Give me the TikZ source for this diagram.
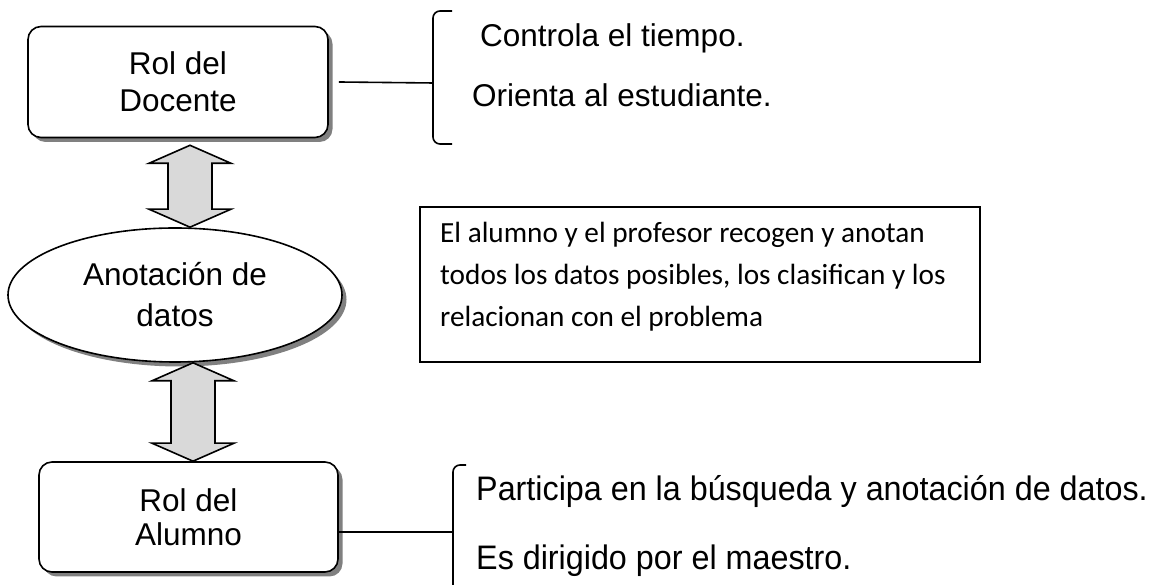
\documentclass[tikz,border=0pt]{standalone}
\usepackage{fontspec}
\setmainfont{Liberation Sans}
\newfontfamily\calibri{Carlito}
\newfontfamily\arialn{Liberation Sans}[FakeStretch=0.95]
\usetikzlibrary{shapes.geometric,shadows,calc}

\newcommand{\flechadoble}[2]{%
        \draw[flecha] let \p1=(#1), \p2=(#2) in
                (\x1,\y1) -- (\x1+41pt,\y1-18pt) -- (\x1+22pt,\y1-18pt)
                -- (\x2+22pt,\y2+18pt) -- (\x2+41pt,\y2+18pt) -- (\x2,\y2)
                -- (\x2-41pt,\y2+18pt) -- (\x2-22pt,\y2+18pt)
                -- (\x1-22pt,\y1-18pt) -- (\x1-41pt,\y1-18pt) -- cycle;}

\begin{document}
\begin{tikzpicture}[x=1pt,y=1pt,
        sombra/.style={drop shadow={shadow xshift=4.5pt,shadow yshift=-4.5pt,fill=black!50,opacity=1}},
        rol/.style={draw,line width=1.6pt,rounded corners=13pt,fill=white,sombra,
                minimum width=300pt,minimum height=111pt,align=center},
        datos/.style={ellipse,draw,line width=1.6pt,fill=white,sombra,inner sep=0pt,
                minimum width=334pt,minimum height=134pt,align=center,
                font=\fontsize{31.5}{41}\selectfont},
        nota/.style={draw,line width=1.6pt,minimum width=560pt,minimum height=155pt},
        textonota/.style={inner sep=0pt,align=left,font=\calibri\fontsize{29.25}{42}\selectfont},
        item/.style={inner sep=0pt,font=\fontsize{31.5}{36}\selectfont},
        itemn/.style={inner sep=0pt,font=\arialn\fontsize{34}{36}\selectfont},
        flecha/.style={draw,line width=1.6pt,fill=black!15,line join=miter},
        llave/.style={line width=1.6pt,rounded corners=7pt},
        linea/.style={line width=1.6pt}]
        \useasboundingbox (0,0) rectangle (1156,585);
        %roles
        \node[rol,font=\fontsize{31.5}{36.5}\selectfont] (docente) at (178,503) {Rol del\\Docente};
        \node[datos] (datos) at (175,290) {Anotación de\\datos};
        \node[rol,minimum width=299pt,minimum height=110pt,font=\fontsize{31.5}{34}\selectfont]
                (alumno) at (188.5,68) {Rol del\\Alumno};
        %flechas
        \coordinate (f1a) at ([xshift=12pt,yshift=-7pt]docente.south);
        \coordinate (f1b) at ([xshift=15pt]datos.north);
        \coordinate (f2a) at ([xshift=18pt]datos.south);
        \coordinate (f2b) at ([xshift=4.5pt]alumno.north);
        \flechadoble{f1a}{f1b}
        \flechadoble{f2a}{f2b}
        %nota
        \node[nota] (nota) at (700,300.5) {};
        \node[textonota,anchor=north west] (textonota) at (440,363)
                {El alumno y el profesor recogen y anotan\\
                todos los datos posibles, los clasifican y los\\
                relacionan con el problema};
        %docente
        \coordinate (llaveD) at (433,502);
        \draw[llave] (452,574) -- (433,574) -- (433,441) -- (452,441);
        \draw[linea] ([xshift=10pt]docente.east) -- (llaveD);
        \node[item,anchor=base west] (tiempo) at (480,538) {Controla el tiempo.};
        \node[item,anchor=base west] (orienta) at (472,478) {Orienta al estudiante.};
        %alumno
        \coordinate (llaveA) at (453,53);
        \draw[llave] (466,120) -- (453,120) -- (453,0);
        \draw[linea] (alumno.east |- llaveA) -- (llaveA);
        \node[itemn,anchor=base west] (participa) at (476,84) {Participa en la búsqueda y anotación de datos.};
        \node[itemn,anchor=base west] (dirigido) at (476,15) {Es dirigido por el maestro.};
\end{tikzpicture}
\end{document}
